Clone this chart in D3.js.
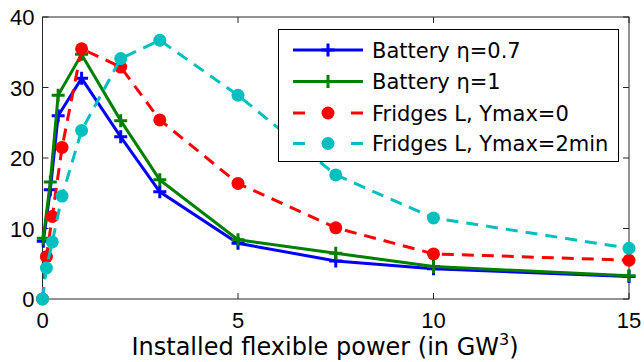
<!DOCTYPE html>
<html>
<head>
<meta charset="utf-8">
<script src="https://cdn.jsdelivr.net/npm/d3@7"></script>
<style>
  body { margin: 0; background: #fff; }
  text { font-family: "Liberation Sans", Arial, sans-serif; fill: #000; }
  .wide { font-family: "DejaVu Sans", sans-serif; }
</style>
</head>
<body>
<svg id="chart" width="644" height="362"></svg>
<script>
// --- Data ---
const batteryX = [0.02, 0.2, 0.4, 1, 2, 3, 5, 7.5, 10, 15];
const battery07 = [8.2, 15.5, 26.0, 31.3, 23.0, 15.2, 7.9, 5.4, 4.3, 3.2];
const battery1 = [8.6, 16.6, 28.9, 34.7, 25.3, 16.9, 8.4, 6.5, 4.6, 3.3];
const fridgeX = [0, 0.1, 0.25, 0.5, 1, 2, 3, 5, 7.5, 10, 15];
const fridgeY0 = [0, 6.0, 11.7, 21.5, 35.5, 32.9, 25.4, 16.4, 10.1, 6.4, 5.5];
const fridgeY2 = [0, 4.4, 8.1, 14.6, 23.9, 34.1, 36.7, 28.9, 17.6, 11.5, 7.2];
const xTicks = [0, 5, 10, 15];
const yTicks = [0, 10, 20, 30, 40];

const series = [
  { name: 'Battery \u03b7=0.7', x: batteryX, y: battery07, color: '#0000ff', dash: null, marker: 'plus' },
  { name: 'Battery \u03b7=1', x: batteryX, y: battery1, color: '#008000', dash: null, marker: 'plus' },
  { name: 'Fridges L, Ymax=0', x: fridgeX, y: fridgeY0, color: '#ff0000', dash: '12,8', marker: 'dot' },
  { name: 'Fridges L, Ymax=2min', x: fridgeX, y: fridgeY2, color: '#00bfbf', dash: '12,8', marker: 'dot' }
];

// --- Layout ---
const plot = { left: 42.5, top: 17, right: 629, bottom: 299 };
const svg = d3.select('#chart');

const xScale = d3.scaleLinear().domain([0, 15]).range([plot.left, plot.right]);
const yScale = d3.scaleLinear().domain([0, 40]).range([plot.bottom, plot.top]);

const axisColor = '#262626';
const tickLen = 6;

// Box
svg.append('rect')
  .attr('x', plot.left).attr('y', plot.top)
  .attr('width', plot.right - plot.left).attr('height', plot.bottom - plot.top)
  .attr('fill', 'none').attr('stroke', axisColor).attr('stroke-width', 1);

// Ticks (inside, all four sides)
const ticks = svg.append('g').attr('stroke', axisColor).attr('stroke-width', 1);
xTicks.forEach(t => {
  const x = xScale(t);
  ticks.append('line').attr('x1', x).attr('x2', x).attr('y1', plot.bottom).attr('y2', plot.bottom - tickLen);
  ticks.append('line').attr('x1', x).attr('x2', x).attr('y1', plot.top).attr('y2', plot.top + tickLen);
  svg.append('text').attr('x', x).attr('y', plot.bottom + 29)
    .attr('text-anchor', 'middle').style('font-size', '22px').text(t);
});
yTicks.forEach(t => {
  const y = yScale(t);
  ticks.append('line').attr('x1', plot.left).attr('x2', plot.left + tickLen).attr('y1', y).attr('y2', y);
  ticks.append('line').attr('x1', plot.right).attr('x2', plot.right - tickLen).attr('y1', y).attr('y2', y);
  svg.append('text').attr('x', plot.left - 8).attr('y', y + 8)
    .attr('text-anchor', 'end').style('font-size', '22px').text(t);
});

// X axis label
const xl = svg.append('text').attr('class', 'wide').attr('x', 325).attr('y', 355)
  .attr('text-anchor', 'middle').style('font-size', '24px');
xl.append('tspan').text('Installed flexible power (in GW');
xl.append('tspan').attr('dy', -10).style('font-size', '16px').text('3');
xl.append('tspan').attr('dy', 10).text(')');

// --- Markers ---
function drawMarker(g, cx, cy, s, size) {
  if (s.marker === 'plus') {
    const h = size / 2;
    g.append('path')
      .attr('d', `M${cx - h},${cy}H${cx + h}M${cx},${cy - h}V${cy + h}`)
      .attr('stroke', s.color).attr('stroke-width', 3).attr('fill', 'none');
  } else {
    g.append('circle').attr('cx', cx).attr('cy', cy).attr('r', size / 2)
      .attr('fill', s.color);
  }
}

// --- Lines ---
const line = d3.line().x(d => xScale(d[0])).y(d => yScale(d[1]));
const clip = svg.append('clipPath').attr('id', 'plotclip');
clip.append('rect').attr('x', plot.left - 8).attr('y', plot.top)
  .attr('width', plot.right - plot.left + 16).attr('height', plot.bottom - plot.top + 8);

const linesG = svg.append('g').attr('clip-path', 'url(#plotclip)');
series.forEach(s => {
  const pts = s.x.map((x, i) => [x, s.y[i]]);
  linesG.append('path').datum(pts).attr('d', line)
    .attr('fill', 'none').attr('stroke', s.color).attr('stroke-width', 3)
    .attr('stroke-dasharray', s.dash);
  pts.forEach(p => drawMarker(linesG, xScale(p[0]), yScale(p[1]), s, 13));
});

// --- Legend ---
const legend = { x: 278.5, y: 29.5, w: 340, h: 132 };
svg.append('rect').attr('x', legend.x).attr('y', legend.y).attr('width', legend.w).attr('height', legend.h)
  .attr('fill', '#fff').attr('stroke', '#000').attr('stroke-width', 1);
const rowY = [50, 81.5, 113, 143.5];
series.forEach((s, i) => {
  const y = rowY[i];
  const g = svg.append('g');
  g.append('line').attr('x1', 293).attr('x2', 363).attr('y1', y).attr('y2', y)
    .attr('stroke', s.color).attr('stroke-width', 3).attr('stroke-dasharray', s.dash ? '12,46' : null);
  drawMarker(g, 328, y, s, 13);
  g.append('text').attr('class', 'wide').attr('x', 372).attr('y', y + 7.5).style('font-size', '21px').text(s.name);
});
</script>
</body>
</html>
